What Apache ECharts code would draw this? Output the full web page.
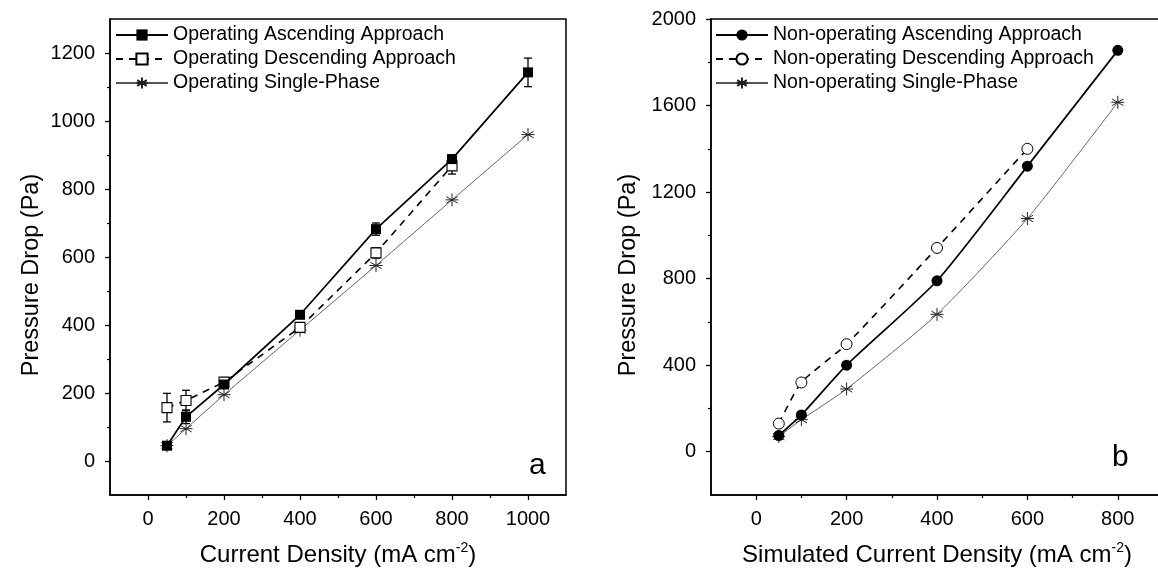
<!DOCTYPE html>
<html>
<head>
<meta charset="utf-8">
<script src="https://cdn.jsdelivr.net/npm/echarts@6/dist/echarts.min.js"></script>
<style>
html,body{margin:0;padding:0;background:#fff;}
#c{width:1158px;height:568px;}
</style>
</head>
<body>
<div id="c"></div>
<script>
// ---- Data: panel a (operating) ----
const xA = [50, 100, 200, 400, 600, 800, 1000];
const opAsc = [45, 130, 225, 430, 682, 888, 1143];
const opAscErr = [8, 20, 10, 10, 18, 12, 42];
const xADesc = [50, 100, 200, 400, 600, 800];
const opDesc = [157, 178, 232, 393, 612, 868];
const opDescErr = [42, 30, 12, 10, 15, 24];
const opSingle = [45, 95, 195, 385, 575, 768, 960];

// ---- Data: panel b (non-operating) ----
const xB = [50, 100, 200, 400, 600, 800];
const nopAsc = [75, 170, 400, 790, 1320, 1855];
const xBDesc = [50, 100, 200, 400, 600];
const nopDesc = [130, 320, 497, 942, 1400];
const nopSingle = [70, 148, 290, 635, 1078, 1615];

// ---- Tick labels ----
const xTicksA = [0, 200, 400, 600, 800, 1000];
const xMinorA = [100, 300, 500, 700, 900];
const yTicksA = [0, 200, 400, 600, 800, 1000, 1200];
const yMinorA = [100, 300, 500, 700, 900, 1100];
const xTicksB = [0, 200, 400, 600, 800];
const xMinorB = [100, 300, 500, 700];
const yTicksB = [0, 400, 800, 1200, 1600, 2000];
const yMinorB = [200, 600, 1000, 1400, 1800];

const FONT = 'Liberation Sans, Arial, sans-serif';
const zip = (xs, ys) => xs.map((x, i) => [x, ys[i]]);
const errData = (xs, ys, es) => xs.map((x, i) => [x, ys[i] - es[i], ys[i] + es[i]]);
const star = 'path://M0,-10L0,10M-8.66,-5L8.66,5M-8.66,5L8.66,-5M-10,0L10,0';

function errRender(params, api) {
  const lo = api.coord([api.value(0), api.value(1)]);
  const hi = api.coord([api.value(0), api.value(2)]);
  const w = 4;
  const st = {stroke: '#000', lineWidth: 1.3};
  return {type: 'group', children: [
    {type: 'line', shape: {x1: lo[0], y1: lo[1], x2: hi[0], y2: hi[1]}, style: st},
    {type: 'line', shape: {x1: lo[0] - w, y1: lo[1], x2: lo[0] + w, y2: lo[1]}, style: st},
    {type: 'line', shape: {x1: hi[0] - w, y1: hi[1], x2: hi[0] + w, y2: hi[1]}, style: st}
  ]};
}

const plain = v => String(v);

function mainX(grid, min, max, ticks, name) {
  return {
    gridIndex: grid, type: 'value', min: min, max: max, position: 'bottom',
    splitLine: {show: false},
    axisLine: {show: true, onZero: false, lineStyle: {color: '#000', width: 1.5}},
    axisTick: {show: true, customValues: ticks, length: 5, lineStyle: {color: '#000', width: 1.3}},
    axisLabel: {customValues: ticks, formatter: plain, color: '#000', fontSize: 20, fontFamily: FONT, margin: 14},
    name: name, nameLocation: 'middle', nameGap: 46,
    nameTextStyle: {color: '#000', fontSize: 24, fontFamily: FONT,
      rich: {n: {fontSize: 24, fontFamily: FONT, color: '#000', lineHeight: 28},
             sup: {fontSize: 14, fontFamily: FONT, color: '#000', verticalAlign: 'top', lineHeight: 28}}}
  };
}
function minorX(grid, min, max, ticks) {
  return {
    gridIndex: grid, type: 'value', min: min, max: max, position: 'bottom',
    splitLine: {show: false}, axisLine: {show: false, onZero: false},
    axisTick: {show: true, customValues: ticks, length: 3, lineStyle: {color: '#000', width: 1.2}},
    axisLabel: {show: false}
  };
}
function mainY(grid, min, max, ticks, name, gap) {
  return {
    gridIndex: grid, type: 'value', min: min, max: max, position: 'left',
    splitLine: {show: false},
    axisLine: {show: true, onZero: false, lineStyle: {color: '#000', width: 1.5}},
    axisTick: {show: true, customValues: ticks, length: 5, lineStyle: {color: '#000', width: 1.3}},
    axisLabel: {customValues: ticks, formatter: plain, color: '#000', fontSize: 20, fontFamily: FONT, margin: 15},
    name: name, nameLocation: 'middle', nameGap: gap, nameRotate: 90,
    nameTextStyle: {color: '#000', fontSize: 23.5, fontFamily: FONT, padding: [0, 36, 0, 0]}
  };
}
function minorY(grid, min, max, ticks) {
  return {
    gridIndex: grid, type: 'value', min: min, max: max, position: 'left',
    splitLine: {show: false}, axisLine: {show: false, onZero: false},
    axisTick: {show: true, customValues: ticks, length: 3, lineStyle: {color: '#000', width: 1.2}},
    axisLabel: {show: false}
  };
}

const legendCommon = {
  orient: 'vertical', itemWidth: 52, itemHeight: 14, itemGap: 4,
  textStyle: {color: '#000', fontSize: 19.5, fontFamily: FONT, lineHeight: 20},
  selectedMode: false
};

const option = {
  backgroundColor: '#fff',
  animation: false,
  grid: [
    {left: 110, top: 19, width: 456, height: 476, outerBoundsMode: 'none', containLabel: false, show: true, borderColor: '#000', borderWidth: 1.5, backgroundColor: 'transparent'},
    {left: 711, top: 19, width: 452, height: 476, outerBoundsMode: 'none', containLabel: false, show: true, borderColor: '#000', borderWidth: 1.5, backgroundColor: 'transparent'}
  ],
  xAxis: [
    mainX(0, -100, 1100, xTicksA, '{n|Current Density (mA cm}{sup|-2}{n|)}'),
    minorX(0, -100, 1100, xMinorA),
    mainX(1, -100, 900, xTicksB, '{n|Simulated Current Density (mA cm}{sup|-2}{n|)}'),
    minorX(1, -100, 900, xMinorB)
  ],
  yAxis: [
    mainY(0, -100, 1300, yTicksA, 'Pressure Drop (Pa)', 66),
    minorY(0, -100, 1300, yMinorA),
    mainY(1, -200, 2000, yTicksB, 'Pressure Drop (Pa)', 70),
    minorY(1, -200, 2000, yMinorB)
  ],
  legend: [
    Object.assign({left: 110, top: 20, data: ['Operating Ascending Approach', 'Operating Descending Approach', 'Operating Single-Phase']}, legendCommon),
    Object.assign({left: 710, top: 20, data: ['Non-operating Ascending Approach', 'Non-operating Descending Approach', 'Non-operating Single-Phase']}, legendCommon)
  ],
  graphic: [
    {type: 'text', left: 529, top: 451, style: {text: 'a', fontSize: 30, fontFamily: FONT, fill: '#000'}},
    {type: 'text', left: 1112, top: 443, style: {text: 'b', fontSize: 30, fontFamily: FONT, fill: '#000'}}
  ],
  series: [
    // error bars (panel a)
    {type: 'custom', xAxisIndex: 0, yAxisIndex: 0, renderItem: errRender, encode: {x: 0, y: [1, 2]}, data: errData(xA, opAsc, opAscErr), z: 1, silent: true},
    {type: 'custom', xAxisIndex: 0, yAxisIndex: 0, renderItem: errRender, encode: {x: 0, y: [1, 2]}, data: errData(xADesc, opDesc, opDescErr), z: 1, silent: true},
    {name: 'Operating Single-Phase', type: 'line', xAxisIndex: 0, yAxisIndex: 0, data: zip(xA, opSingle),
      symbol: star, symbolSize: 13, color: '#333',
      lineStyle: {color: '#555', width: 0.9},
      itemStyle: {color: 'none', borderColor: '#222', borderWidth: 1}, z: 2},
    {name: 'Operating Descending Approach', type: 'line', xAxisIndex: 0, yAxisIndex: 0, data: zip(xADesc, opDesc),
      symbol: 'rect', symbolSize: 10, color: '#000',
      lineStyle: {color: '#000', width: 1.6, type: [7, 6]},
      itemStyle: {color: '#fff', borderColor: '#000', borderWidth: 1.1}, z: 3},
    {name: 'Operating Ascending Approach', type: 'line', xAxisIndex: 0, yAxisIndex: 0, data: zip(xA, opAsc),
      symbol: 'rect', symbolSize: 10, color: '#000',
      lineStyle: {color: '#000', width: 1.7},
      itemStyle: {color: '#000', borderColor: '#000', borderWidth: 0}, z: 4},
    // panel b
    {name: 'Non-operating Single-Phase', type: 'line', xAxisIndex: 2, yAxisIndex: 2, data: zip(xB, nopSingle),
      symbol: star, symbolSize: 13, color: '#333', smooth: 0.2,
      lineStyle: {color: '#555', width: 0.9},
      itemStyle: {color: 'none', borderColor: '#222', borderWidth: 1}, z: 2},
    {name: 'Non-operating Descending Approach', type: 'line', xAxisIndex: 2, yAxisIndex: 2, data: zip(xBDesc, nopDesc),
      symbol: 'circle', symbolSize: 11, color: '#000', smooth: 0.2,
      lineStyle: {color: '#000', width: 1.6, type: [7, 6]},
      itemStyle: {color: '#fff', borderColor: '#000', borderWidth: 1}, z: 3},
    {name: 'Non-operating Ascending Approach', type: 'line', xAxisIndex: 2, yAxisIndex: 2, data: zip(xB, nopAsc),
      symbol: 'circle', symbolSize: 11, color: '#000', smooth: 0.2,
      lineStyle: {color: '#000', width: 1.7},
      itemStyle: {color: '#000', borderColor: '#000', borderWidth: 0}, z: 4}
  ]
};

const chart = echarts.init(document.getElementById('c'), null, {renderer: 'canvas'});
chart.setOption(option);
</script>
</body>
</html>
